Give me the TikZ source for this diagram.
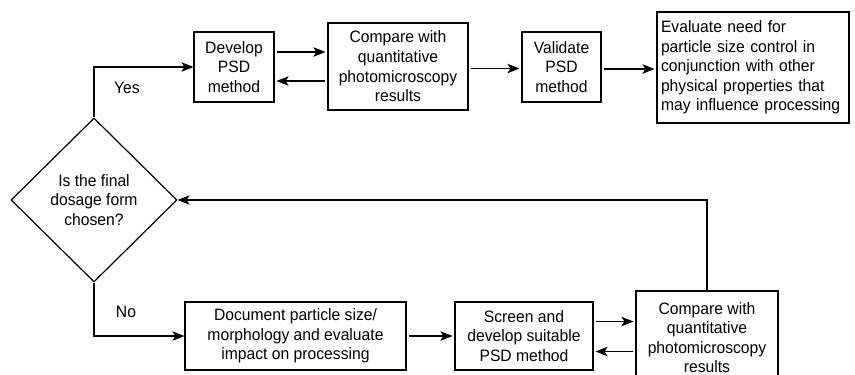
\documentclass[tikz,border=0pt]{standalone}
\usepackage{fontspec}
\setmainfont[FakeStretch=0.95]{Liberation Sans}
\usetikzlibrary{shapes.geometric,arrows.meta}
\begin{document}
\begin{tikzpicture}[x=1pt,y=-1pt,
  txt/.style={font=\fontsize{16.5}{19.6}\selectfont},
  box/.style={txt,draw,line width=1.2pt,rectangle,inner sep=0pt,align=center},
  arr/.style={line width=1.2pt,-{Stealth[length=12pt,width=9.5pt,inset=3pt]}},
  gap/.style={shorten <=2pt,shorten >=2pt}]
\clip (0,0) rectangle (855,375);
\useasboundingbox (0,0) rectangle (855,375);

% top row
\node[box,minimum width=80pt,minimum height=70pt] (dev) at (234,67) {Develop\\PSD\\method};
\node[box,minimum width=140pt,minimum height=87pt] (cmpa) at (398,66.5) {Compare with\\quantitative\\photomicroscopy\\results};
\node[box,minimum width=79pt,minimum height=70pt] (val) at (561.5,67) {Validate\\PSD\\method};
\node[box,align=left,text width=184pt,minimum height=111pt,inner xsep=4pt] (eva) at (753,67.5) {Evaluate need for\\particle size control in\\conjunction with other\\physical properties that\\may influence processing};

% decision
\node[txt,draw,line width=1.2pt,diamond,aspect=1,inner sep=0pt,minimum width=166pt,minimum height=164pt,align=center] (dia) at (94,200) {Is the final\\dosage form\\chosen?};

% bottom row
\node[box,minimum width=221pt,minimum height=68pt] (doc) at (295.5,336) {Document particle size/\\morphology and evaluate\\impact on processing};
\node[box,minimum width=138pt,minimum height=68pt] (scr) at (524,336) {Screen and\\develop suitable\\PSD method};
\node[box,minimum width=142pt,minimum height=93pt] (cmpb) at (707,337.5) {Compare with\\quantitative\\photomicroscopy\\results};

% labels
\node[txt] (yes) at (127,88) {Yes};
\node[txt] (no) at (126,312) {No};

% connectors
\draw[arr] (dia.north) |- (dev.west);
\draw[arr] (dia.south) |- (doc.west);
\draw[arr,gap] ([yshift=15pt]dev.east) -- ([yshift=15pt]dev.east -| cmpa.west);
\draw[arr,gap] ([yshift=-14.5pt]cmpa.west) -- ([yshift=-14.5pt]cmpa.west -| dev.east);
\draw[arr,gap] ([yshift=-2pt]cmpa.east) -- ([yshift=-2pt]cmpa.east -| val.west);
\draw[arr,gap] ([yshift=-2pt]val.east) -- ([yshift=-2pt]val.east -| eva.west);
\draw[arr,gap] (doc.east) -- (scr.west);
\draw[arr,gap] ([yshift=14.5pt]scr.east) -- ([yshift=14.5pt]scr.east -| cmpb.west);
\draw[arr,gap] ([yshift=-15.5pt]scr.east -| cmpb.west) -- ([yshift=-15.5pt]scr.east);
\draw[arr] (cmpb.north) |- (dia.east);
\end{tikzpicture}
\end{document}
